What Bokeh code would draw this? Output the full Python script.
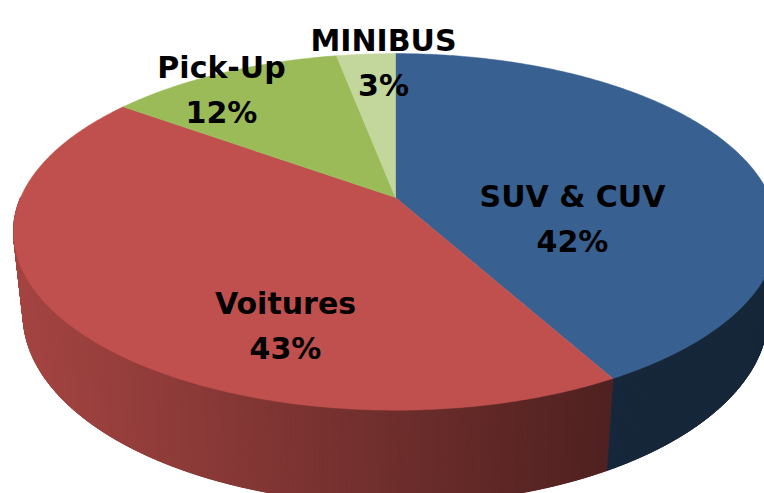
import math
from bokeh.plotting import figure
from bokeh.models import Range1d, ColumnDataSource
from bokeh.embed import file_html
from bokeh.resources import INLINE
from bokeh.core.properties import value

# ---------------- data ----------------
categories = ["SUV & CUV", "Voitures", "Pick-Up", "MINIBUS"]
shares = [42, 43, 12, 3]
pct_labels = ["42%", "43%", "12%", "3%"]

# ---------------- style / layout ----------------
top_colors = ["#386192", "#C0504D", "#9BBB59", "#C3D69B"]
label_x = [572, 285, 221, 383]          # label centre (px)
label_y = [196, 303, 67, 40]            # baseline of the category line (px)
line_gap = 45

W, H = 764, 493
CX, CY = 395.0, 197.0          # projected pie centre
FOCAL = 1728.0
DIST = 4.61
SIN_E = 0.458
COS_E = math.sqrt(1 - SIN_E ** 2)
THICK = 0.25


def project(u, v, z):
    depth = DIST + v * COS_E - z * SIN_E
    x = CX + FOCAL * u / depth
    y = CY - FOCAL * (v * SIN_E + z * COS_E) / depth
    return x, y


def rim(theta_deg, z):
    t = math.radians(theta_deg)
    return project(math.sin(t), math.cos(t), z)


def shade(hex_color, f):
    r, g, b = (int(hex_color[i:i + 2], 16) for i in (1, 3, 5))
    return "#%02x%02x%02x" % tuple(max(0, min(255, int(round(c * f)))) for c in (r, g, b))


def light(x):
    f = 0.86 - (x - 13.0) / 597.0 * 0.45
    return max(0.40, min(0.90, f))


total = float(sum(shares))
bounds = [0.0]
for s in shares:
    bounds.append(bounds[-1] + 360.0 * s / total)


def slice_of(theta):
    th = theta % 360.0
    for i in range(len(shares)):
        if bounds[i] <= th < bounds[i + 1]:
            return i
    return len(shares) - 1


# ---------------- side walls (front half only) ----------------
base_xs, base_ys, base_cols = [], [], []
for i in range(len(shares)):
    a0 = max(bounds[i], 90.0)
    a1 = min(bounds[i + 1], 270.0)
    if a1 <= a0:
        continue
    n = max(4, int((a1 - a0) / 0.5))
    angs = [a0 + (a1 - a0) * k / n for k in range(n + 1)]
    tx = [rim(a, 0) for a in angs]
    bx = [rim(a, -THICK) for a in reversed(angs)]
    pts = tx + bx
    base_xs.append([q[0] for q in pts])
    base_ys.append([q[1] for q in pts])
    xm = sum(q[0] for q in tx) / len(tx)
    base_cols.append(shade(top_colors[i], light(xm)))

side_xs, side_ys, side_cols = [], [], []
step = 0.5
th = 90.0
while th < 270.0 - 1e-9:
    th2 = min(th + step, 270.0)
    for b in bounds:
        if th < b < th2:
            th2 = b
    x1, y1 = rim(th, 0)
    x2, y2 = rim(th2, 0)
    x3, y3 = rim(th2, -THICK)
    x4, y4 = rim(th, -THICK)
    i = slice_of((th + th2) / 2)
    side_xs.append([x1, x2, x3, x4])
    side_ys.append([y1, y2, y3, y4])
    side_cols.append(shade(top_colors[i], light((x1 + x2) / 2)))
    th = th2

# ---------------- top faces ----------------
top_xs, top_ys = [], []
for i in range(len(shares)):
    a0, a1 = bounds[i], bounds[i + 1]
    n = max(4, int((a1 - a0) / 0.5))
    cx0, cy0 = project(0, 0, 0)
    xs, ys = [cx0], [cy0]
    for k in range(n + 1):
        a = a0 + (a1 - a0) * k / n
        x, y = rim(a, 0)
        xs.append(x)
        ys.append(y)
    top_xs.append(xs)
    top_ys.append(ys)

p = figure(width=W, height=H, output_backend="svg", toolbar_location=None,
           x_range=Range1d(0, W), y_range=Range1d(H, 0),
           x_axis_type=None, y_axis_type=None, min_border=0)
p.outline_line_color = None
p.grid.visible = False
p.background_fill_color = "white"
p.border_fill_color = "white"

base_src = ColumnDataSource(dict(xs=base_xs, ys=base_ys, color=base_cols))
p.patches("xs", "ys", source=base_src, fill_color="color", line_color="color", line_width=0.5)

side_src = ColumnDataSource(dict(xs=side_xs, ys=side_ys, color=side_cols))
p.patches("xs", "ys", source=side_src, fill_color="color", line_color="color", line_width=1.0)

top_src = ColumnDataSource(dict(xs=top_xs, ys=top_ys, color=top_colors, name=categories))
p.patches("xs", "ys", source=top_src, fill_color="color", line_color="color", line_width=0.5)

lab_src = ColumnDataSource(dict(x=label_x, y=label_y, text=categories))
pct_src = ColumnDataSource(dict(x=label_x, y=[v + line_gap for v in label_y], text=pct_labels))
for src in (lab_src, pct_src):
    p.text("x", "y", text="text", source=src, text_font=value("DejaVu Sans"),
           text_font_style="bold", text_font_size="30px", text_align="center",
           text_baseline="alphabetic", text_color="black")

open("out.html", "w").write(file_html(p, INLINE))
